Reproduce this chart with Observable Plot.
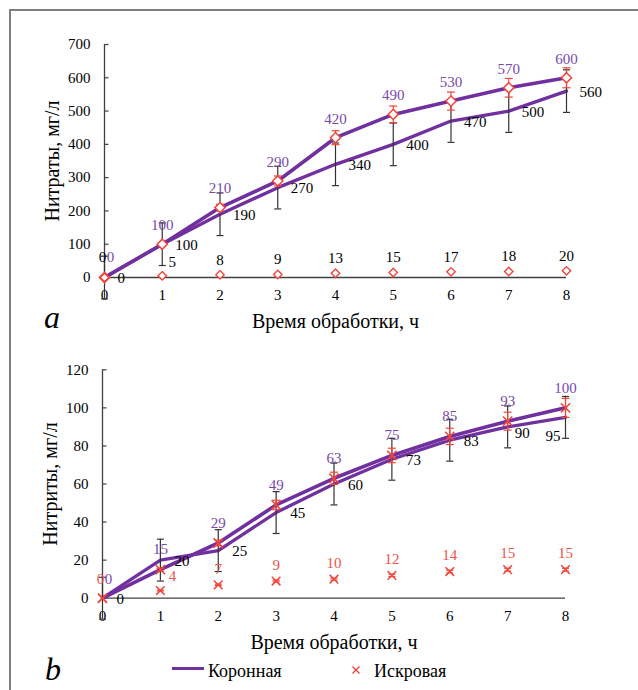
<!DOCTYPE html>
<html><head><meta charset="utf-8">
<script src="https://cdn.jsdelivr.net/npm/d3@7"></script>
<script src="https://cdn.jsdelivr.net/npm/@observablehq/plot@0.6"></script>
<style>
body{margin:0;background:#fff;}
#wrap{position:relative;width:638px;height:690px;overflow:hidden;font-family:"Liberation Serif","Times New Roman",serif;color:#000;}
#wrap svg, #wrap svg text{font-family:"Liberation Serif","Times New Roman",serif !important;}
.frame{position:absolute;left:9px;top:9px;width:700px;height:700px;border-top:2px solid #7f7f7f;border-left:2px solid #7f7f7f;}
.panel{position:absolute;left:0;}
.tag{position:absolute;font-style:italic;font-size:32px;line-height:32px;}
.leg{position:absolute;font-size:18px;line-height:22px;white-space:nowrap;}
</style></head><body>
<div id="wrap">
  <div class="frame"></div>
  <div id="chartA" class="panel" style="top:0"></div>
  <div id="chartB" class="panel" style="top:335px"></div>
  <div class="tag" style="left:44px;top:301px">a</div>
  <div class="tag" style="left:45px;top:653px">b</div>
  <div style="position:absolute;left:172px;top:667px;width:32px;height:3px;background:#7030A0"></div>
  <div class="leg" style="left:208px;top:659.6px">Коронная</div>
  <svg style="position:absolute;left:349px;top:663px" width="14" height="14"><path d="M3.5,3.5L10.5,10.5M10.5,3.5L3.5,10.5" stroke="#F2453B" stroke-width="1.4" fill="none"/></svg>
  <div class="leg" style="left:374px;top:659.6px">Искровая</div>
</div>
<script>
// ---------- data ----------
const hours = [0, 1, 2, 3, 4, 5, 6, 7, 8];

// Chart a: nitrates, mg/l
const yTicksA = [0, 100, 200, 300, 400, 500, 600, 700];
const nitrateUpper = [0, 100, 210, 290, 420, 490, 530, 570, 600];
const nitrateUpperErr = [0, 5, 10, 15, 21, 25, 27, 28, 30];
const nitrateLower = [0, 100, 190, 270, 340, 400, 470, 500, 560];
const nitrateLowerErr = [64, 64, 64, 64, 64, 64, 64, 64, 64];
const nitrateSpark = [0, 5, 8, 9, 13, 15, 17, 18, 20];
const nitrateSparkErr = [0, 0.25, 0.4, 0.45, 0.65, 0.75, 0.85, 0.9, 1];

// Chart b: nitrites, mg/l
const yTicksB = [0, 20, 40, 60, 80, 100, 120];
const nitriteUpper = [0, 15, 29, 49, 63, 75, 85, 93, 100];
const nitriteUpperErr = [0, 0.75, 1.5, 2.5, 3.2, 3.8, 4.3, 4.7, 5];
const nitriteLower = [0, 20, 25, 45, 60, 73, 83, 90, 95];
const nitriteLowerErr = [11, 11, 11, 11, 11, 11, 11, 11, 11];
const nitriteSpark = [0, 4, 7, 9, 10, 12, 14, 15, 15];
const nitriteSparkErr = [0, 0.2, 0.35, 0.45, 0.5, 0.6, 0.7, 0.75, 0.75];

const xTitle = "Время обработки, ч";
const yTitleA = "Нитраты, мг/л";
const yTitleB = "Нитриты, мг/л";

// ---------- styles ----------
const PURPLE = "#7030A0", PURPLE_TXT = "#7a48b0", RED = "#F2453B", RED_TXT = "#EE5248", BAR = "#333";
const AXIS = "#404040";
const FONT = "Liberation Serif";

const rows = (vals, errs) => hours.map((h, i) => ({h, v: vals[i], e: errs[i], i}));
const capSym = {draw(ctx, size) { const w = Math.sqrt(size / Math.PI); ctx.moveTo(-w, 0); ctx.lineTo(w, 0); }};
const inTick = {draw(ctx, size) { const w = Math.sqrt(size / Math.PI); ctx.moveTo(0, 0); ctx.lineTo(w, 0); }};

function errorMarks(data, color, capR) {
  const f = d => d.e > 0;
  return [
    Plot.ruleX(data, {x: "h", y1: d => d.v - d.e, y2: d => d.v + d.e, stroke: color, strokeWidth: 1.2, filter: f}),
    Plot.dot(data, {x: "h", y: d => d.v + d.e, symbol: capSym, r: capR, stroke: color, fill: "none", strokeWidth: 1.2, filter: f}),
    Plot.dot(data, {x: "h", y: d => d.v - d.e, symbol: capSym, r: capR, stroke: color, fill: "none", strokeWidth: 1.2, filter: f})
  ];
}

function frameMarks(yTicks, yTitle) {
  return [
    Plot.axisY({ticks: yTicks, tickSize: 0, tickPadding: 14, fontSize: 15, fontFamily: FONT, label: null}),
    Plot.axisX({ticks: hours, tickSize: 0, tickPadding: 12, fontSize: 15, fontFamily: FONT, label: null}),
    Plot.ruleX([0], {stroke: AXIS, strokeWidth: 1.3}),
    Plot.ruleY([0], {stroke: AXIS, strokeWidth: 1.3}),
    Plot.dot(yTicks, {x: 0, y: d => d, symbol: inTick, r: 4, stroke: AXIS, fill: "none", strokeWidth: 1.2}),
    Plot.text([yTitle], {frameAnchor: "left", textAnchor: "middle", lineAnchor: "middle", dx: -52, rotate: -90, text: d => d, fontSize: 20, fontFamily: FONT}),
    Plot.text([xTitle], {frameAnchor: "bottom", textAnchor: "middle", lineAnchor: "middle", dy: 44, text: d => d, fontSize: 20, fontFamily: FONT})
  ];
}

const style = {fontFamily: FONT, fontSize: "15px", color: "#000", background: "transparent", overflow: "visible"};
const lbl = d => String(d.v);
const T = (data, opts) => Plot.text(data, {x: "h", y: "v", text: lbl, fontSize: 15, fontFamily: FONT, ...opts});

// ---------- chart a ----------
const upA = rows(nitrateUpper, nitrateUpperErr);
const loA = rows(nitrateLower, nitrateLowerErr);
const spA = rows(nitrateSpark, nitrateSparkErr);

const plotA = Plot.plot({
  width: 638, height: 335,
  marginTop: 44, marginBottom: 58, marginLeft: 104, marginRight: 72,
  x: {domain: [0, 8]},
  y: {domain: [0, 700]},
  style,
  marks: [
    ...frameMarks(yTicksA, yTitleA),
    Plot.line(loA, {x: "h", y: "v", stroke: PURPLE, strokeWidth: 3.3}),
    Plot.line(upA, {x: "h", y: "v", stroke: PURPLE, strokeWidth: 3.6}),
    ...errorMarks(loA, BAR, 3.5),
    ...errorMarks(upA, RED, 4),
    ...errorMarks(spA, RED, 3.5),
    Plot.dot(upA, {x: "h", y: "v", symbol: "diamond2", r: 4.6, stroke: RED, fill: "white", strokeWidth: 1.5}),
    Plot.dot(spA, {x: "h", y: "v", symbol: "diamond2", r: 3.8, stroke: RED, fill: "white", strokeWidth: 1.4}),
    T(upA, {dy: -19, fill: PURPLE_TXT, filter: d => d.i > 0}),
    T(upA, {dx: 6, dy: -20, fill: PURPLE_TXT, filter: d => d.i === 0}),
    T(loA, {dx: 13, dy: 1, textAnchor: "start", fill: "#000"}),
    T(spA, {dy: -15, fill: "#000", filter: d => d.i > 1}),
    T(spA, {dx: 10, dy: -14, fill: "#000", filter: d => d.i === 1}),
    T(spA, {dx: -2, dy: -20, fill: "#000", filter: d => d.i === 0})
  ]
});
document.getElementById("chartA").append(plotA);

// ---------- chart b ----------
const upB = rows(nitriteUpper, nitriteUpperErr);
const loB = rows(nitriteLower, nitriteLowerErr);
const spB = rows(nitriteSpark, nitriteSparkErr);

const plotB = Plot.plot({
  width: 638, height: 320,
  marginTop: 34.3, marginBottom: 57.3, marginLeft: 102, marginRight: 73,
  x: {domain: [0, 8]},
  y: {domain: [0, 120]},
  style,
  marks: [
    ...frameMarks(yTicksB, yTitleB),
    Plot.line(loB, {x: "h", y: "v", stroke: PURPLE, strokeWidth: 3.3}),
    Plot.line(upB, {x: "h", y: "v", stroke: PURPLE, strokeWidth: 3.6}),
    ...errorMarks(loB, BAR, 3.5),
    ...errorMarks(upB, RED, 4),
    ...errorMarks(spB, RED, 3.5),
    Plot.dot(upB, {x: "h", y: "v", symbol: "times", r: 4.3, stroke: RED, strokeWidth: 1.5}),
    Plot.dot(spB, {x: "h", y: "v", symbol: "times", r: 4, stroke: RED, strokeWidth: 1.5}),
    T(upB, {dy: -20, fill: PURPLE_TXT, filter: d => d.i > 0}),
    T(upB, {dx: 6, dy: -19, fill: PURPLE_TXT, filter: d => d.i === 0}),
    T(loB, {dx: 14, dy: 1, textAnchor: "start", fill: "#000", filter: d => d.i < 7}),
    T(loB, {dx: 7, dy: 6, textAnchor: "start", fill: "#000", filter: d => d.i === 7}),
    T(loB, {dx: -5, dy: 19, textAnchor: "end", fill: "#000", filter: d => d.i === 8}),
    T(spB, {dy: -16, fill: RED_TXT, filter: d => d.i > 1}),
    T(spB, {dx: 12, dy: -14, fill: RED_TXT, filter: d => d.i === 1}),
    T(spB, {dx: -2, dy: -19, fill: RED_TXT, filter: d => d.i === 0})
  ]
});
document.getElementById("chartB").append(plotB);
</script>
</body></html>
